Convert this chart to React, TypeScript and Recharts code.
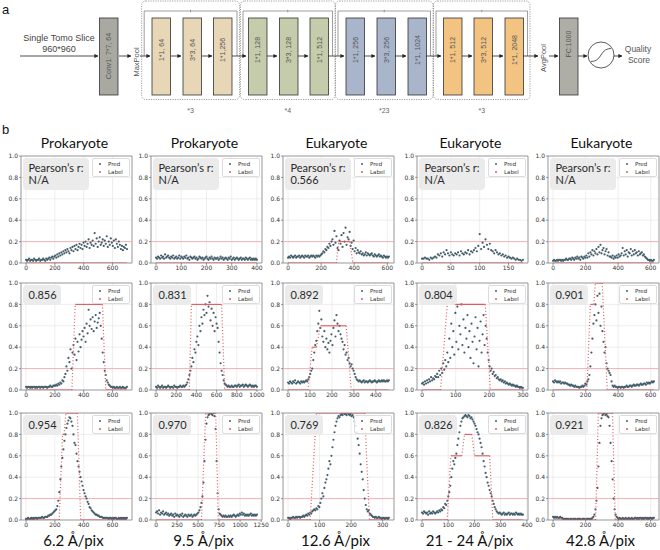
import React from 'react';
import {
  ScatterChart,
  Scatter,
  XAxis,
  YAxis,
  CartesianGrid,
  ReferenceLine,
  ReferenceArea,
} from 'recharts';

// Prediction scores per tomogram slice, stored as score * 100, evenly spaced over the slice range.
const PRED_R1C1 = [
  3, 2, 3, 4, 2, 3, 3, 2, 4, 3, 2, 3, 3, 4, 2, 3, 3, 4, 3, 2, 4, 3,
  4, 5, 3, 5, 6, 4, 6, 7, 5, 8, 6, 9, 7, 10, 8,
  11, 9, 12, 10, 13, 11, 9, 14, 12, 15, 11, 16, 13, 17, 12, 15, 18, 14, 17, 13, 19,
  16, 20, 15, 18, 22, 14, 19, 17, 21, 16, 28, 18, 23, 15, 20, 24, 17, 19, 22, 16, 21, 18, 25, 15, 20, 17, 23, 19, 16, 21, 14, 22, 18, 15, 20, 17,
  13, 16, 12, 15, 14, 17, 13,
];
const PRED_R1C2 = [
  5, 4, 6, 5, 4, 7, 5, 6, 4, 8, 5, 6, 7, 5, 4, 6, 5, 7, 4, 5,
  6, 4, 5, 7, 4, 6, 5, 4, 6, 5, 7, 4, 5, 3, 6, 5, 4, 5, 6, 4,
  5, 3, 4, 6, 5, 4, 5, 3, 4, 5, 6, 4, 3, 5, 4, 6, 4, 3, 5, 4,
  4, 5, 3, 4, 6, 4, 5, 3, 4, 5, 4, 3, 5, 4, 6, 3, 4, 5, 3, 4,
  5, 4, 3, 4, 5, 3, 4, 4, 3, 5, 4, 3, 4, 5, 3, 4, 3, 4, 3, 4, 3,
];
const PRED_R1C3 = [
  5, 6, 5, 7, 6, 5, 6, 7, 5, 6, 6, 7, 5, 6, 7, 6, 5, 7, 6, 6, 7, 5, 6, 7, 6, 7, 6, 5, 7, 6, 7, 6, 7,
  8, 9, 11, 10, 13, 12, 15, 14, 18, 16, 20,
  22, 17, 30, 19, 25, 14,
  12, 21, 18, 26, 15, 28, 20, 33, 17, 24, 22, 29, 16, 19, 13, 21,
  11, 14, 9, 12, 10, 9, 11, 8,
  9, 7, 8, 10, 7, 9, 8, 7, 8, 9, 7, 6, 8, 7, 6, 7, 8, 6, 7, 6, 5, 7, 6, 5, 6, 5, 6,
];
const PRED_R1C4 = [
  4, 4, 5, 4, 4, 3, 5, 4, 5,
  6, 5, 8, 7, 9, 6, 10, 8, 12, 9, 7, 10,
  8, 7, 9, 8, 10, 7, 11, 9, 8, 10, 9, 12, 8, 11, 10, 12,
  14, 11, 16, 27, 13, 19, 15, 22, 17, 13, 18, 12,
  11, 9, 12, 10, 8, 9, 7, 8, 6, 7, 5, 6, 5, 4, 5, 4, 3, 4, 3, 3, 2, 3,
];
const PRED_R1C5 = [
  2, 3, 2, 2, 3, 2, 3, 3, 2, 3, 2, 3, 3, 4, 3, 3, 4,
  4, 3, 5, 4, 3, 5, 4, 6, 4, 5, 3, 6, 5, 4, 6, 5,
  7, 5, 9, 6, 10, 8, 12, 7, 11, 9, 13, 8, 15, 10, 17, 9, 12, 14, 8, 11, 13, 7, 10, 6,
  6, 5, 7, 4, 6, 5, 7, 5, 8, 6, 7,
  9, 14, 7, 11, 8, 12, 6, 10, 9, 13, 7, 11, 8, 12, 9, 10, 7, 11, 8, 9, 10, 7, 8,
  6, 5, 4, 3, 3, 2, 3, 2, 2, 3,
];
const PRED_R2C1 = [
  3, 2, 3, 3, 2, 3, 2, 3, 3, 2, 3, 2, 3, 3, 2, 3, 3, 2, 3, 3, 3, 2, 3, 3, 4, 3, 3, 4, 4,
  4, 5, 4, 6, 5, 7, 6, 9, 8, 12,
  15, 22, 18, 30, 26, 38, 20, 35,
  42, 33, 48, 28, 45, 36, 52, 40, 47, 55,
  50, 58, 45, 62, 53, 75, 60, 66, 57,
  68, 55, 64, 70, 58, 63, 67, 72,
  60, 48, 35, 26, 18, 14,
  9, 7, 5, 4, 3, 3, 2, 3, 2, 2, 3, 2, 2, 3, 2, 2, 3, 2, 2, 2, 3,
];
const PRED_R2C2 = [
  3, 2, 4, 3, 2, 3, 4, 2, 3, 3, 2, 3, 4, 3, 2, 3, 3, 2, 4, 3, 3, 2, 3, 3, 4, 3, 3, 4, 3, 4,
  5, 7, 10, 14, 18,
  22, 30, 26, 38, 35, 45,
  50, 42, 60, 55, 68,
  62, 75, 70, 80, 72, 88, 78,
  82, 65, 76, 60, 72, 55, 68, 62, 58,
  45, 35, 25, 18, 14,
  9, 6, 5, 4, 3, 4, 3, 3, 4, 3, 3, 4, 4, 3, 4, 5, 3, 4, 4, 5, 3, 4, 5, 4, 3, 4, 5, 4, 3, 4, 3, 4, 4, 3,
];
const PRED_R2C3 = [
  7, 6, 8, 7, 6, 8, 7, 9, 6, 7, 8, 7, 6, 8, 7, 8, 7, 8, 9, 8,
  10, 12, 15, 18, 20,
  28, 35, 42, 46, 55,
  62, 74, 58, 66,
  50, 45, 55, 40, 48, 38, 44, 35,
  46, 52, 42, 58, 65, 50, 70, 62, 55, 60,
  52, 48, 45, 38, 42, 33, 35, 28, 30,
  25, 22, 24, 20, 18, 15, 12,
  10, 9, 8, 9, 8, 7, 8, 9, 7, 8, 8, 7, 8, 9, 8, 7, 8, 8, 9, 8, 7, 8, 9, 8, 8, 9, 8, 9, 8, 8, 9, 8, 9,
];
const PRED_R2C4 = [
  6, 7, 5, 8, 6, 9, 7, 10, 8, 12, 9, 11, 10, 13, 12,
  15, 12, 18, 14, 20, 16, 25, 19, 28, 22,
  35, 26, 48, 30, 62, 40, 55, 33, 72,
  45, 78, 38, 60, 52, 80, 42, 66, 35, 58, 48, 70, 40,
  55, 30, 62, 45, 25, 50, 68, 38, 58, 22, 46, 64, 35, 52, 70, 42, 60,
  48, 35, 28, 22, 18,
  20, 15, 17, 13, 14, 11, 12, 10, 9,
  10, 8, 9, 7, 8, 6, 7, 6, 5, 6, 5, 4, 5, 4, 4, 3, 4, 3, 3, 2, 3, 2, 2,
];
const PRED_R2C5 = [
  8, 7, 9, 8, 7, 8, 7, 8, 6, 7, 7, 6, 7, 6, 6, 5,
  5, 4, 5, 4, 4, 3, 4, 3, 3, 3, 2, 3, 3, 4, 3,
  4, 6, 5, 8, 10, 14,
  22, 35, 48, 62, 70,
  80, 65, 88, 72, 90, 60, 78,
  55, 45, 35, 40, 25, 20, 18,
  16, 14, 8,
  4, 3, 4, 3, 3, 2, 3, 3, 2, 3, 3, 2, 3, 3, 4, 3, 3, 4, 4, 3, 4, 5, 4, 4, 5, 5, 4, 5, 6, 5, 5, 6, 6, 5, 7, 6, 7, 6, 7, 8, 7, 8,
];
const PRED_R3C1 = [
  1, 1, 2, 1, 1, 2, 1, 2, 1, 2, 2, 1, 2, 2, 2, 2, 3, 2, 2, 3, 3, 3,
  4, 4, 5, 5, 6, 7, 8, 9, 10,
  13, 18, 26, 38,
  50, 58, 66, 74, 80, 86,
  90, 93, 96, 95, 92, 88,
  80, 72, 70, 62, 55, 50, 45,
  40, 36, 32, 28, 25, 22, 20,
  17, 15, 12, 11, 9, 8, 7,
  6, 5, 5, 4, 4, 3, 3, 3, 2, 2, 2, 2, 2, 2, 1, 2, 2, 1, 2, 1, 2, 2, 1, 1, 2, 1, 2, 1, 2, 1, 2, 1, 2,
];
const PRED_R3C2 = [
  7, 8, 6, 9, 5, 7, 6, 8, 5, 6, 7, 5, 6, 4, 5, 6, 4, 5, 3, 6, 4, 5, 4, 3, 5, 4, 6, 3, 4, 5, 4, 3, 5, 4, 4, 5, 3, 4, 5, 4, 5, 6,
  7, 9, 12, 16, 22,
  35, 55, 75, 90,
  96, 98, 99, 100, 99, 98, 100, 97,
  85, 55, 25, 10,
  6, 5, 4, 3, 4, 3, 4, 3, 3, 4, 3, 4, 3, 4, 5, 4, 3, 4, 5, 4, 6, 5, 7, 5, 6, 4, 5, 4, 5, 4, 5, 6, 4, 5, 4, 5, 4, 5,
];
const PRED_R3C3 = [
  2, 2, 1, 2, 2, 3, 2, 2, 3, 2, 3, 3, 2, 3, 3, 4, 3, 4,
  5, 4, 6, 5, 7, 6, 8, 9, 10,
  9, 11, 10, 13, 12, 16,
  20, 25, 22, 30, 35, 38, 42,
  48, 55, 52, 60, 68, 75, 82,
  88, 92, 95, 97, 96,
  98, 99, 98, 100, 99, 99, 98, 100, 99, 98, 99, 97, 98, 96,
  92, 88, 82, 76, 70,
  62, 52, 45, 38, 28, 20, 14,
  10, 8, 9, 6, 5,
  4, 3, 3, 2, 3, 2, 2, 3, 2, 2, 1, 2, 2, 1, 2, 2, 1, 2,
];
const PRED_R3C4 = [
  7, 6, 8, 7, 6, 7, 5, 8, 6, 7, 6, 8, 7, 6, 7, 8, 7, 9, 8, 10, 9,
  12, 11, 15, 14, 18, 22, 26,
  32, 40, 48, 55, 52, 58,
  62, 70, 76, 82, 88, 92, 95,
  96, 97, 98, 97, 96, 98, 97, 95, 96, 94, 92,
  90, 88, 85, 82, 80, 76, 72,
  68, 62, 55, 50, 44, 40, 35,
  32, 28, 25, 22, 18, 15, 12,
  10, 8, 7, 6, 7, 6, 5, 6, 7, 5, 6, 5, 6, 7, 5, 6, 6, 5, 6, 5, 7, 6, 5, 6, 5, 6, 5, 5,
];
const PRED_R3C5 = [
  3, 2, 3, 2, 3, 2, 2, 3, 2, 2,
  1, 1, 1, 1, 1, 1, 0, 1, 1, 0, 1, 1, 1, 0, 1, 1, 1, 1, 0, 1, 1, 1, 0, 1, 1, 1, 1, 1, 1, 2,
  3, 5, 10, 18, 30,
  50, 72, 88, 95,
  98, 99, 100, 98, 99, 97, 96,
  88, 72, 55, 38,
  20, 10, 5, 3,
  2, 1, 2, 1, 1, 2, 1, 1, 2, 1, 1, 2, 1, 1, 2, 1, 1, 2, 2, 1, 2, 1, 2, 2, 1, 2, 1, 2, 2, 1, 2, 1, 2, 2, 1, 2, 2,
];

// Ground-truth label profiles: [slice, score] corners of each step.
const LABEL_R1C1 = [[0, 0], [700, 0]];
const LABEL_R1C2 = [[0, 0], [400, 0]];
const LABEL_R1C3 = [[0, 0], [292, 0], [306, 0.2], [373, 0.2], [392, 0], [610, 0]];
const LABEL_R1C4 = [[0, 0], [175, 0]];
const LABEL_R1C5 = [[0, 0], [620, 0]];
const LABEL_R2C1 = [[0, 0], [318, 0], [341, 0.8], [530, 0.8], [553, 0], [700, 0]];
const LABEL_R2C2 = [[0, 0], [330, 0], [350, 0.8], [650, 0.8], [680, 0], [1000, 0]];
const LABEL_R2C3 = [[0, 0], [91, 0], [110, 0.4], [129, 0.4], [148, 0.6], [265, 0.6], [288, 0], [460, 0]];
const LABEL_R2C4 = [[0, 0], [55, 0], [75, 0.8], [188, 0.8], [203, 0], [300, 0]];
const LABEL_R2C5 = [[0, 0], [208, 0], [229, 0.8], [250, 0.8], [260, 1], [302, 1], [333, 0], [620, 0]];
const LABEL_R3C1 = [[0, 0], [230, 0], [253, 0.8], [264, 0.8], [276, 1], [356, 1], [379, 0], [700, 0]];
const LABEL_R3C2 = [[0, 0], [540, 0], [590, 1], [710, 1], [740, 0], [1200, 0]];
const LABEL_R3C3 = [[0, 0], [70, 0], [90, 1], [243, 1], [258, 0], [320, 0]];
const LABEL_R3C4 = [[0, 0], [96, 0], [110, 0.6], [152, 0.6], [162, 0.8], [190, 0.8], [200, 0.6], [258, 0.6], [270, 0], [385, 0]];
const LABEL_R3C5 = [[0, 0], [262, 0], [278, 1], [365, 1], [382, 0], [620, 0]];

const TICKS_600 = [0, 200, 400, 600];
const TICKS_400 = [0, 100, 200, 300, 400];
const TICKS_300 = [0, 100, 200, 300];
const TICKS_150 = [0, 50, 100, 150];
const TICKS_1000 = [0, 200, 400, 600, 800, 1000];
const TICKS_1250 = [0, 250, 500, 750, 1000, 1250];
const Y_TICKS = [0, 0.2, 0.4, 0.6, 0.8, 1.0];

const COL_TITLES = ['Prokaryote', 'Prokaryote', 'Eukaryote', 'Eukaryote', 'Eukaryote'];
const PIXEL_SIZES = ['6.2 Å/pix', '9.5 Å/pix', '12.6 Å/pix', '21 - 24 Å/pix', '42.8 Å/pix'];
const PEARSON = [
  ['N/A', 'N/A', '0.566', 'N/A', 'N/A'],
  ['0.856', '0.831', '0.892', '0.804', '0.901'],
  ['0.954', '0.970', '0.769', '0.826', '0.921'],
];

const PANELS = [
  [
    { xMax: 700, ticks: TICKS_600, pred: PRED_R1C1, label: LABEL_R1C1 },
    { xMax: 400, ticks: TICKS_400, pred: PRED_R1C2, label: LABEL_R1C2 },
    { xMax: 610, ticks: TICKS_600, pred: PRED_R1C3, label: LABEL_R1C3 },
    { xMax: 175, ticks: TICKS_150, pred: PRED_R1C4, label: LABEL_R1C4 },
    { xMax: 620, ticks: TICKS_600, pred: PRED_R1C5, label: LABEL_R1C5 },
  ],
  [
    { xMax: 700, ticks: TICKS_600, pred: PRED_R2C1, label: LABEL_R2C1 },
    { xMax: 1000, ticks: TICKS_1000, pred: PRED_R2C2, label: LABEL_R2C2 },
    { xMax: 460, ticks: TICKS_400, pred: PRED_R2C3, label: LABEL_R2C3 },
    { xMax: 300, ticks: TICKS_300, pred: PRED_R2C4, label: LABEL_R2C4 },
    { xMax: 620, ticks: TICKS_600, pred: PRED_R2C5, label: LABEL_R2C5 },
  ],
  [
    { xMax: 700, ticks: TICKS_600, pred: PRED_R3C1, label: LABEL_R3C1 },
    { xMax: 1200, ticks: TICKS_1250, pred: PRED_R3C2, label: LABEL_R3C2 },
    { xMax: 320, ticks: TICKS_300, pred: PRED_R3C3, label: LABEL_R3C3 },
    { xMax: 385, ticks: TICKS_400, pred: PRED_R3C4, label: LABEL_R3C4 },
    { xMax: 620, ticks: TICKS_600, pred: PRED_R3C5, label: LABEL_R3C5 },
  ],
];

// network blocks for the architecture sketch
const GROUPS = [
  { left: 141.7, right: 239.5, fill: '#e7d7b6', xs: [152, 183, 213.5], names: ['1*1, 64', '3*3, 64', '1*1,256'], rep: '*3' },
  { left: 240.5, right: 335, fill: '#c4ccab', xs: [248.5, 279.5, 310], names: ['1*1, 128', '3*3, 128', '1*1, 512'], rep: '*4' },
  { left: 335.5, right: 433, fill: '#a9b5ca', xs: [346, 377, 408], names: ['1*1, 256', '3*3, 256', '1*1, 1024'], rep: '*23' },
  { left: 433.5, right: 530, fill: '#f3c382', xs: [443.5, 474, 505], names: ['1*1, 512', '3*3, 512', '1*1, 2048'], rep: '*3' },
];
const ARROWS = [
  [20, 98], [119, 131], [140, 150], [171, 181], [202, 212], [232, 246],
  [267, 277], [298, 308], [328, 344], [364, 375], [395, 406], [426, 441],
  [462, 472], [492, 503], [523, 538], [549, 558], [578, 587], [614, 622],
];

const PRED_COLOR = '#435e6a';
const LABEL_COLOR = '#e2585e';
const SANS = '"Liberation Sans", Arial, sans-serif';
const TITLE_FONT = 'Lato, "Open Sans", sans-serif';
const TICK_FONT = '"DejaVu Sans", sans-serif';

const PLOT_LEFT = [21, 151, 283, 417, 548];
const PLOT_TOP = [156, 283, 413];
const PW = 111;
const PH = 107;
const YW = 26;
const MT = 3;
const MR = 10;
const XH = 14;

const BOX_Y = 18;
const BOX_H = 77;
const BOX_W = 18.5;

const Block = ({ x, fill, text, ty = 50 }: { x: number; fill: string; text: string; ty?: number }) => (
  <g>
    <rect x={x} y={BOX_Y} width={BOX_W} height={BOX_H} fill={fill} stroke="#333" strokeWidth={0.8} />
    <text
      x={x + BOX_W / 2}
      y={ty}
      transform={`rotate(-90 ${x + BOX_W / 2} ${ty})`}
      textAnchor="middle"
      dominantBaseline="central"
      fontSize={7}
      fill="#555"
      fontFamily={SANS}
    >
      {text}
    </text>
  </g>
);

const Architecture = () => (
  <svg width={660} height={125} style={{ position: 'absolute', left: 0, top: 0 }}>
    <defs>
      <marker id="ah" markerWidth={4} markerHeight={4} refX={3.6} refY={2} orient="auto" markerUnits="userSpaceOnUse">
        <path d="M0,0 L4,2 L0,4 z" fill="#222" />
      </marker>
    </defs>
    <text x={2} y={14} fontSize={13} fontFamily={SANS} fill="#111">a</text>
    <text x={59} y={41} fontSize={9} textAnchor="middle" fontFamily={SANS} fill="#444">Single Tomo Slice</text>
    <text x={59} y={52} fontSize={9} textAnchor="middle" fontFamily={SANS} fill="#444">960*960</text>

    {GROUPS.map((g, gi) => (
      <g key={gi}>
        <rect x={g.left} y={1} width={g.right - g.left} height={98.5} rx={4} fill="none" stroke="#777" strokeWidth={0.7} strokeDasharray="1.2 1.2" />
        <polyline
          points={`${g.left + 2.5},56 ${g.left + 2.5},11 ${g.right - 2.5},11 ${g.right - 2.5},56`}
          fill="none"
          stroke="#777"
          strokeWidth={0.7}
        />
        <line x1={(g.left + g.right) / 2} x2={(g.left + g.right) / 2} y1={9.8} y2={12.2} stroke="#777" strokeWidth={0.7} />
        {g.xs.map((x, i) => (
          <Block key={i} x={x} fill={g.fill} text={g.names[i]} />
        ))}
        <text x={(g.left + g.right) / 2} y={113} fontSize={7} textAnchor="middle" fontFamily={SANS} fill="#666">{g.rep}</text>
      </g>
    ))}

    <Block x={99.5} fill="#a9a9a1" text="Conv1: 7*7, 64" ty={56} />
    <Block x={559.5} fill="#aeaea7" text="FC:1000" ty={44} />
    <text x={136} y={62} transform="rotate(-90 136 62)" textAnchor="middle" dominantBaseline="central" fontSize={7.5} fontFamily={SANS} fill="#555">MaxPool</text>
    <text x={543} y={58} transform="rotate(-90 543 58)" textAnchor="middle" dominantBaseline="central" fontSize={7.5} fontFamily={SANS} fill="#555">AvgPool</text>

    {ARROWS.map(([a, b], i) => (
      <line key={i} x1={a} x2={b} y1={56} y2={56} stroke="#222" strokeWidth={0.8} markerEnd="url(#ah)" />
    ))}

    <circle cx={601} cy={55} r={13} fill="#fff" stroke="#333" strokeWidth={0.8} />
    <path d="M591,61.5 Q597.5,61.5 601,55 T611,48.5" fill="none" stroke="#333" strokeWidth={0.8} />
    <text x={638} y={52} fontSize={8.5} textAnchor="middle" fontFamily={SANS} fill="#555">Quality</text>
    <text x={639} y={63} fontSize={8.5} textAnchor="middle" fontFamily={SANS} fill="#555">Score</text>
  </svg>
);

const predDot = (p: any) => <circle cx={p.cx} cy={p.cy} r={1.1} fill={PRED_COLOR} />;
const noDot = () => <g />;

type PanelCfg = { xMax: number; ticks: number[]; pred: number[]; label: number[][] };

const Panel = ({ cfg, row, col }: { cfg: PanelCfg; row: number; col: number }) => {
  const left = PLOT_LEFT[col];
  const top = PLOT_TOP[row];
  const domain = [-0.05 * cfg.xMax, 1.05 * cfg.xMax];
  const predData = cfg.pred.map((v, i) => ({ x: (i * cfg.xMax) / (cfg.pred.length - 1), y: v / 100 }));
  // each label step is split into flat pieces (solid) and ramps (dotted, sparse samples)
  const labelSegs = cfg.label.slice(1).map((pt, i) => {
    const prev = cfg.label[i];
    return { data: [{ x: prev[0], y: prev[1] }, { x: pt[0], y: pt[1] }], ramp: prev[1] !== pt[1] };
  });
  const firstRow = row === 0;

  return (
    <div style={{ position: 'absolute', left: left - YW, top: top - MT, width: YW + PW + MR, height: MT + PH + XH }}>
      <ScatterChart width={YW + PW + MR} height={MT + PH + XH} margin={{ top: MT, right: MR, bottom: 0, left: 0 }}>
        <CartesianGrid stroke="#e2e2e2" strokeWidth={0.6} />
        <XAxis
          type="number"
          dataKey="x"
          domain={domain}
          ticks={cfg.ticks}
          allowDataOverflow
          interval={0}
          height={XH}
          axisLine={false}
          tickSize={2}
          tickMargin={0.5}
          tickLine={{ stroke: '#555', strokeWidth: 0.6 }}
          tick={{ fontSize: 6, fill: '#333', fontFamily: TICK_FONT }}
        />
        <YAxis
          type="number"
          dataKey="y"
          domain={[0, 1]}
          ticks={Y_TICKS}
          allowDataOverflow
          interval={0}
          width={YW}
          axisLine={false}
          tickSize={2}
          tickMargin={1}
          tickLine={{ stroke: '#555', strokeWidth: 0.6 }}
          tick={{ fontSize: 6, fill: '#333', fontFamily: TICK_FONT }}
          tickFormatter={(v: number) => v.toFixed(1)}
        />
        <ReferenceLine y={0.2} stroke="#f2a2a7" strokeWidth={0.8} />
        <Scatter data={predData} shape={predDot} isAnimationActive={false} />
        {labelSegs.map((s, i) => (
          <Scatter
            key={i}
            data={s.data}
            shape={noDot}
            line={
              s.ramp
                ? { stroke: LABEL_COLOR, strokeWidth: 1.2, strokeDasharray: '1 2.2' }
                : { stroke: LABEL_COLOR, strokeWidth: 1.1 }
            }
            isAnimationActive={false}
          />
        ))}
        <ReferenceArea x1={domain[0]} x2={domain[1]} y1={0} y2={1} fill="none" fillOpacity={0} stroke="#8a8a8a" strokeWidth={0.8} />
      </ScatterChart>

      <div
        style={{
          position: 'absolute',
          left: YW + 1.5,
          top: MT + 2,
          width: firstRow ? 66 : 38,
          height: firstRow ? 32 : 20,
          background: '#ebebeb',
          borderRadius: 4,
          fontFamily: TITLE_FONT,
          fontSize: 11,
          color: '#2a2a2a',
          lineHeight: '12px',
          padding: '4px 0 0 6px',
          boxSizing: 'border-box',
        }}
      >
        {firstRow ? (
          <>
            <div>Pearson’s r:</div>
            <div>{PEARSON[row][col]}</div>
          </>
        ) : (
          <div>{PEARSON[row][col]}</div>
        )}
      </div>

      <div
        style={{
          position: 'absolute',
          left: YW + PW - 40,
          top: MT + 2,
          width: 38,
          height: 19,
          background: 'rgba(255,255,255,0.85)',
          border: '0.6px solid #dcdcdc',
          borderRadius: 2,
          boxSizing: 'border-box',
          fontFamily: TICK_FONT,
          fontSize: 5.5,
          color: '#333',
        }}
      >
        <div style={{ position: 'absolute', left: 6, top: 4, width: 2, height: 2, borderRadius: 1, background: PRED_COLOR }} />
        <div style={{ position: 'absolute', left: 15, top: 1.5, lineHeight: '7px' }}>Pred</div>
        <div style={{ position: 'absolute', left: 6, top: 12, width: 2, height: 2, borderRadius: 1, background: LABEL_COLOR }} />
        <div style={{ position: 'absolute', left: 15, top: 9.5, lineHeight: '7px' }}>Label</div>
      </div>
    </div>
  );
};

const App = () => (
  <div style={{ position: 'absolute', left: 0, top: 0, width: 660, height: 550, background: '#fff', overflow: 'hidden' }}>
    <Architecture />
    <div style={{ position: 'absolute', left: 2, top: 122, fontSize: 13, fontFamily: SANS, color: '#111' }}>b</div>

    {COL_TITLES.map((t, c) => (
      <div
        key={t + c}
        style={{
          position: 'absolute',
          left: PLOT_LEFT[c] + PW / 2 - 62,
          top: 134,
          width: 120,
          textAlign: 'center',
          fontFamily: TITLE_FONT,
          fontSize: 14,
          lineHeight: '18px',
          color: '#111',
        }}
      >
        {t}
      </div>
    ))}

    {PANELS.map((cols, r) => cols.map((cfg, c) => <Panel key={`${r}-${c}`} cfg={cfg} row={r} col={c} />))}

    {PIXEL_SIZES.map((t, c) => (
      <div
        key={t}
        style={{
          position: 'absolute',
          left: PLOT_LEFT[c] + PW / 2 - 63,
          top: 531,
          width: 120,
          textAlign: 'center',
          fontFamily: TITLE_FONT,
          fontSize: 15,
          lineHeight: '18px',
          color: '#111',
        }}
      >
        {t}
      </div>
    ))}
  </div>
);

export default App;
